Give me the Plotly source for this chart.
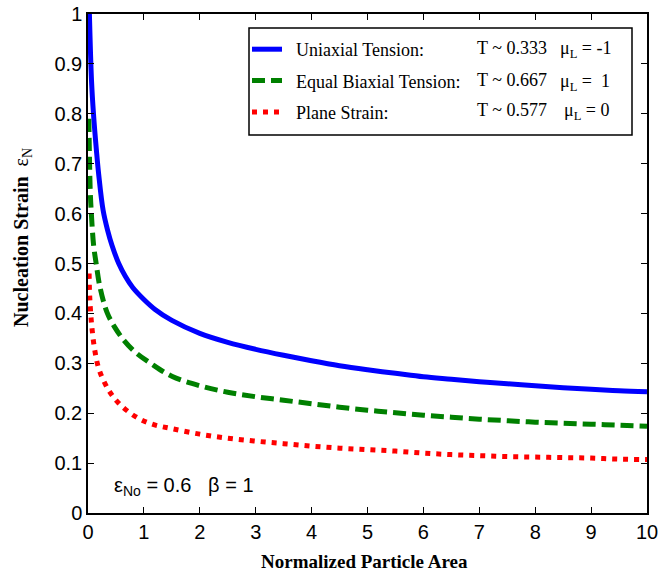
import plotly.graph_objects as go

# ---- data ----
x_uni = [0.025, 0.063, 0.098, 0.152, 0.19, 0.27, 0.35, 0.43, 0.55, 0.67, 0.8, 1.0, 1.2, 1.5, 2.0,
         2.5, 3.0, 3.5, 4.0, 4.5, 5.0, 5.5, 6.0, 6.5, 7.0, 7.5, 8.0, 8.5, 9.0, 9.5, 10.0]
eps_uni = [1.0, 0.866, 0.80, 0.725, 0.68, 0.607, 0.567, 0.536, 0.50, 0.474, 0.452, 0.428, 0.408,
           0.386, 0.36, 0.342, 0.328, 0.316, 0.305, 0.295, 0.287, 0.28, 0.273, 0.268, 0.263,
           0.259, 0.255, 0.251, 0.248, 0.245, 0.243]

x_bi = [0.015, 0.025, 0.04, 0.06, 0.1, 0.146, 0.21, 0.34, 0.48, 0.65, 0.85, 1.12, 1.5, 2.0, 2.5,
        3.0, 3.5, 4.0, 4.5, 5.0, 5.5, 6.0, 6.5, 7.0, 7.5, 8.0, 8.5, 9.0, 9.5, 10.0]
eps_bi = [0.79, 0.72, 0.645, 0.60, 0.537, 0.50, 0.455, 0.402, 0.372, 0.345, 0.322, 0.30, 0.274,
          0.255, 0.242, 0.233, 0.226, 0.219, 0.212, 0.206, 0.201, 0.196, 0.192, 0.188, 0.185,
          0.182, 0.18, 0.178, 0.176, 0.174]

x_ps = [0.02, 0.03, 0.063, 0.12, 0.2, 0.37, 0.55, 0.85, 1.15, 1.5, 2.0, 2.5, 3.0, 3.5, 4.0,
        4.5, 5.0, 5.5, 6.0, 6.5, 7.0, 7.5, 8.0, 8.5, 9.0, 9.5, 10.0]
eps_ps = [0.48, 0.435, 0.38, 0.327, 0.287, 0.246, 0.22, 0.193, 0.178, 0.169, 0.158, 0.15, 0.144,
          0.139, 0.134, 0.13, 0.127, 0.124, 0.12, 0.117, 0.115, 0.113, 0.112, 0.111, 0.11,
          0.108, 0.107]

series_names = ["Uniaxial Tension:", "Equal Biaxial Tension:", "Plane Strain:"]
triax_labels = ["T ~ 0.333", "T ~ 0.667", "T ~ 0.577"]
lode_labels = ["\u03bc<sub>L</sub> = -1", "\u03bc<sub>L</sub> =  1", "\u03bc<sub>L</sub> = 0"]

x_ticks = list(range(0, 11))
y_ticks = [0, 0.1, 0.2, 0.3, 0.4, 0.5, 0.6, 0.7, 0.8, 0.9, 1]
y_tick_text = ["0", "0.1", "0.2", "0.3", "0.4", "0.5", "0.6", "0.7", "0.8", "0.9", "1"]

SERIF = "Liberation Serif, Times New Roman, serif"
SANS = "Liberation Sans, Arial, sans-serif"
PAD = "\u00a0\u00a0"

fig = go.Figure()
fig.add_trace(go.Scatter(x=x_uni, y=eps_uni, mode="lines", name=PAD + series_names[0], legendgroup="g1",
                         line=dict(color="#0000FF", width=5, shape="spline", smoothing=1.0)))
fig.add_trace(go.Scatter(x=x_bi, y=eps_bi, mode="lines", name=PAD + series_names[1], legendgroup="g2",
                         line=dict(color="#008000", width=5, shape="spline", smoothing=1.0,
                                   dash="13px,6px")))
fig.add_trace(go.Scatter(x=x_ps, y=eps_ps, mode="lines", name=PAD + series_names[2], legendgroup="g3",
                         line=dict(color="#FF0000", width=5, shape="spline", smoothing=1.0,
                                   dash="5px,6px")))

axis_common = dict(showline=True, linecolor="black", linewidth=1.5, mirror="ticks",
                   ticks="inside", ticklen=6, tickwidth=1.2, tickcolor="black",
                   showgrid=False, zeroline=False, automargin=False,
                   tickfont=dict(family=SANS, size=20, color="black"))

fig.update_xaxes(range=[0, 10], tickvals=x_ticks, **axis_common)
fig.update_yaxes(range=[0, 1], tickvals=y_ticks, ticktext=y_tick_text, **axis_common)

def px_x(p):
    return (p - 88) / 559.0

def px_y(p):
    return (513 - p) / 499.0

rows_px = [48, 80, 110]
annotations = []
for i in range(3):
    annotations.append(dict(x=px_x(475), y=px_y(rows_px[i]), xref="paper", yref="paper",
                            xanchor="left", yanchor="middle", showarrow=False,
                            text=triax_labels[i], font=dict(family=SERIF, size=18, color="black")))
    annotations.append(dict(x=px_x(558 if i < 2 else 562), y=px_y(rows_px[i] + 2), xref="paper", yref="paper",
                            xanchor="left", yanchor="middle", showarrow=False,
                            text=lode_labels[i], font=dict(family=SERIF, size=18, color="black")))

annotations.append(dict(x=px_x(112), y=px_y(486), xref="paper", yref="paper",
                        xanchor="left", yanchor="middle", showarrow=False,
                        text="\u03b5<sub>No</sub> = 0.6   \u03b2 = 1",
                        font=dict(family=SANS, size=20, color="black")))
annotations.append(dict(x=px_x(364), y=px_y(561), xref="paper", yref="paper",
                        xanchor="center", yanchor="middle", showarrow=False,
                        text="<b>Normalized Particle Area</b>",
                        font=dict(family=SERIF, size=19, color="black")))
annotations.append(dict(x=px_x(22), y=px_y(238), xref="paper", yref="paper",
                        xanchor="center", yanchor="middle", showarrow=False, textangle=-90,
                        text="<b>Nucleation Strain</b>  \u03b5<sub>N</sub>",
                        font=dict(family=SERIF, size=20, color="black")))

fig.update_layout(
    width=662, height=576,
    margin=dict(l=88, r=15, t=14, b=63),
    paper_bgcolor="white", plot_bgcolor="white",
    showlegend=True,
    legend=dict(x=px_x(247), y=px_y(31), xanchor="left", yanchor="top",
                bgcolor="rgba(0,0,0,0)", borderwidth=0, tracegroupgap=5,
                font=dict(family=SERIF, size=18, color="black")),
    shapes=[dict(type="rect", xref="paper", yref="paper",
                 x0=px_x(249), x1=px_x(632), y0=px_y(28), y1=px_y(135),
                 line=dict(color="black", width=1.5), fillcolor="white", layer="above")],
    annotations=annotations,
)

fig.write_html("out.html", config={"displayModeBar": False},
               post_script="document.body.style.margin='0px';")
